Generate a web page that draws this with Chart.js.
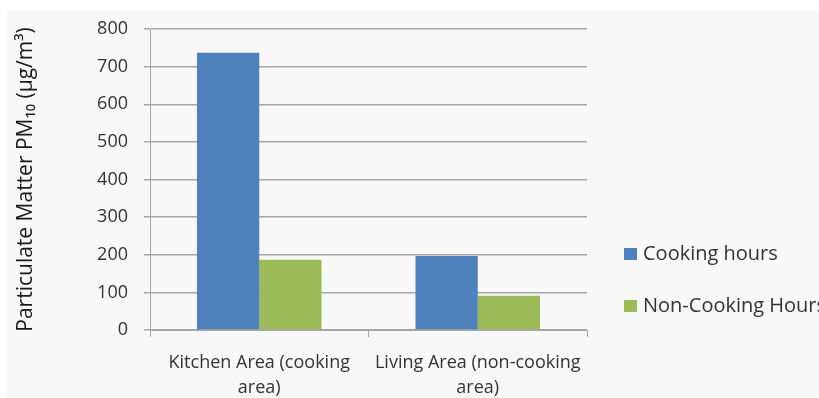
<!DOCTYPE html>
<html>
<head>
<meta charset="utf-8">
<script src="https://cdn.jsdelivr.net/npm/chart.js@4.4.0/dist/chart.umd.min.js"></script>
<style>
  html, body { margin: 0; padding: 0; background: #ffffff; }
  #wrap { width: 819px; height: 398px; }
</style>
</head>
<body>
<div id="wrap"><canvas id="grafico"></canvas></div>
<script>
// datos del grafico
var categorias = [
  ["Kitchen Area (cooking", "area)"],
  ["Living Area (non-cooking", "area)"]
];
var nombresSeries = ["Cooking hours", "Non-Cooking Hours"];
var horasCocina = [737, 197];
var horasSinCocina = [187, 91];
var coloresSeries = ["#4f81bd", "#9bbb59"];
var tituloEjeY = "Particulate Matter PM\u2081\u2080 (\u00b5g/m\u00b3)";

var fuente = "'Open Sans', sans-serif";
var colorTexto = "#333333";
var colorLineas = "#a6a6a6";

// fondo gris claro del area del grafico
var fondoPlugin = {
  id: "fondo",
  beforeDraw: function (chart) {
    var ctx = chart.ctx;
    ctx.save();
    ctx.fillStyle = "#f8f8f8";
    ctx.fillRect(7, 10, chart.width - 7, chart.height - 10);
    ctx.restore();
  }
};

// leyenda a la derecha, dibujada a mano
var leyendaPlugin = {
  id: "leyendaDerecha",
  afterDraw: function (chart) {
    var ctx = chart.ctx;
    ctx.save();
    ctx.font = "20px " + fuente;
    ctx.textBaseline = "middle";
    chart.data.datasets.forEach(function (ds, i) {
      var y = 254 + i * 52;
      ctx.fillStyle = ds.backgroundColor;
      ctx.fillRect(624, y - 6, 13, 12);
      ctx.fillStyle = colorTexto;
      ctx.fillText(ds.label, 643, y);
    });
    ctx.restore();
  }
};

var ctx = document.getElementById("grafico").getContext("2d");
new Chart(ctx, {
  type: "bar",
  data: {
    labels: categorias,
    datasets: [{
      label: nombresSeries[0],
      data: horasCocina,
      backgroundColor: coloresSeries[0]
    }, {
      label: nombresSeries[1],
      data: horasSinCocina,
      backgroundColor: coloresSeries[1]
    }]
  },
  options: {
    responsive: true,
    maintainAspectRatio: false,
    animation: false,
    layout: { padding: { top: 29, right: 232, left: 0, bottom: 0 } },
    categoryPercentage: 0.57,
    barPercentage: 1.0,
    plugins: {
      legend: { display: false },
      tooltip: { enabled: false }
    },
    scales: {
      x: {
        grid: {
          offset: true,
          drawOnChartArea: false,
          drawTicks: true,
          tickLength: 7,
          color: colorLineas
        },
        border: { color: colorLineas, width: 1 },
        ticks: {
          color: colorTexto,
          font: { family: fuente, size: 18, lineHeight: 1.4 },
          padding: 13,
          maxRotation: 0,
          autoSkip: false
        },
        afterFit: function (scale) { scale.height = 68; }
      },
      y: {
        min: 0,
        max: 800,
        ticks: {
          stepSize: 100,
          color: colorTexto,
          font: { family: fuente, size: 18 },
          padding: 16
        },
        grid: {
          color: colorLineas,
          lineWidth: 1.5,
          tickLength: 6
        },
        border: { color: colorLineas, width: 1 },
        title: {
          display: true,
          text: tituloEjeY,
          color: "#1a1a1a",
          font: { family: fuente, size: 21 },
          padding: { top: 13, bottom: 0 }
        },
        afterFit: function (scale) { scale.width = 150; }
      }
    }
  },
  plugins: [fondoPlugin, leyendaPlugin]
});
</script>
</body>
</html>
